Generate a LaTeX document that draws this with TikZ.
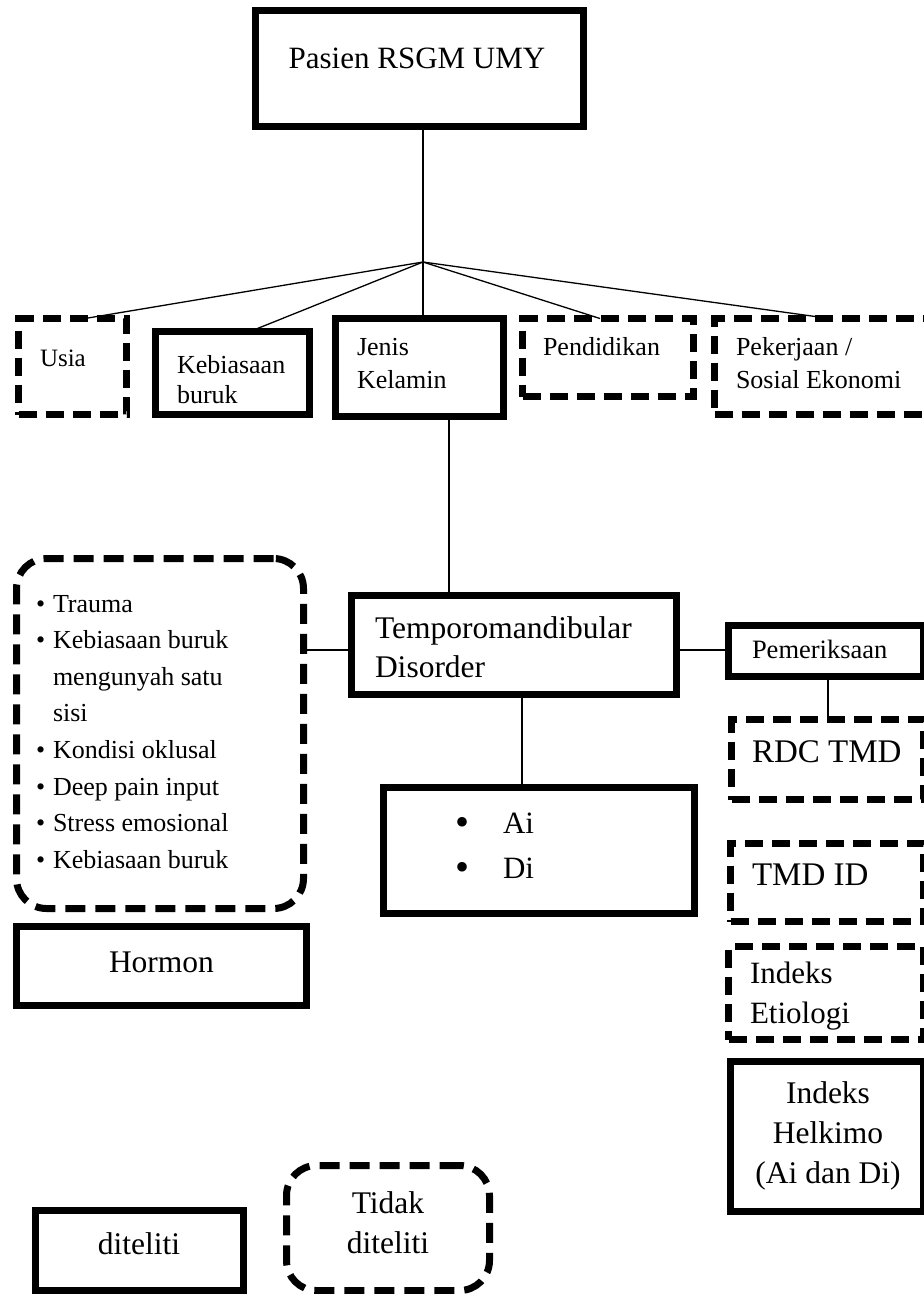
\documentclass[tikz,border=0pt]{standalone}
\usepackage{fontspec}
\setmainfont{Liberation Serif}
\newcommand\fs[1]{\fontsize{#1}{#1}\selectfont}
\newcommand\bx[6]{\node[#1, minimum width={#4-#3-7}, minimum height={#6-#5-7}] (#2) at ({(#3+#4)/2},{(#5+#6)/2}) {};}
\tikzset{
  every node/.style={inner sep=0pt, outer sep=0pt},
  sbox/.style={draw, rectangle, line width=7pt},
  dbox/.style={draw, rectangle, line width=7pt, dash pattern=on 18pt off 9pt},
  rdbox/.style={draw, rectangle, line width=7pt, dash pattern=on 20pt off 10pt, rounded corners=30pt},
  conn/.style={line width=1.3pt},
  tl/.style={anchor=base west},
  tc/.style={anchor=base},
}
\begin{document}
\begin{tikzpicture}[x=1pt,y=-1pt]
\fill[white] (0,0) rectangle (924,1294);
\useasboundingbox (0,0) rectangle (924,1294);
\clip (0,0) rectangle (924,1294);

% boxes
\bx{sbox}{pasien}{252}{587}{7}{130}
\bx{dbox}{usia}{15}{130}{315}{418}
\bx{sbox}{kebiasaan}{152}{313}{328}{418}
\bx{sbox}{jenis}{332}{507}{315}{420}
\bx{dbox}{pendidikan}{519}{697}{315}{400}
\bx{dbox}{pekerjaan}{711}{945}{315}{418}
\bx{sbox}{tmd}{348}{680}{592}{698}
\bx{rdbox}{faktor}{13}{307}{555}{912}
\bx{sbox}{hormon}{13}{310}{923}{1009}
\bx{sbox}{aidi}{380}{698}{784}{917}
\bx{sbox}{periksa}{725}{927}{622}{680}
\bx{dbox}{rdc}{728}{927}{716}{803}
\bx{dbox}{tmdid}{727}{927}{840}{925}
\bx{dbox}{etiologi}{725}{927}{943}{1043}
\bx{sbox}{helkimo}{727}{927}{1058}{1215}
\bx{sbox}{diteliti}{32}{247}{1207}{1294}
\bx{rdbox}{tidak}{283}{493}{1162}{1294}

% connectors
\coordinate (J) at (423,262);
\draw[conn] (J |- pasien.south) -- (J);
\draw[conn] (J) -- ([xshift=12.5pt]usia.north);
\draw[conn] (J) -- ([xshift=17.5pt]kebiasaan.north);
\draw[conn] (J) -- (J |- jenis.north);
\draw[conn] (J) -- ([xshift=-8pt]pendidikan.north);
\draw[conn] (J) -- ([xshift=1.5pt]pekerjaan.north);
\draw[conn] ([xshift=29.5pt]jenis.south) -- ([xshift=29.5pt]jenis.south |- tmd.north);
\draw[conn] ([yshift=-5pt]tmd.west) -- ([yshift=-5pt]tmd.west -| faktor.east);
\draw[conn] ([yshift=-5pt]tmd.east) -- ([yshift=-5pt]tmd.east -| periksa.west);
\draw[conn] ([xshift=8pt]tmd.south) -- ([xshift=8pt]tmd.south |- aidi.north);
\draw[conn] ([xshift=2pt]periksa.south) -- ([xshift=2pt]periksa.south |- rdc.north);

% texts
\node[tc,font=\fs{31}] (tPasien) at (417,68) {Pasien RSGM UMY};
\node[tl,font=\fs{25}] (tUsia) at (40,366) {Usia};
\node[tl,font=\fs{26}] (tKeb1) at (177,373) {Kebiasaan};
\node[tl,font=\fs{26}] (tKeb2) at (177,403) {buruk};
\node[tl,font=\fs{26}] (tJen1) at (357,355) {Jenis};
\node[tl,font=\fs{26}] (tJen2) at (357,388) {Kelamin};
\node[tl,font=\fs{26}] (tPend) at (543,355) {Pendidikan};
\node[tl,font=\fs{26}] (tPek1) at (736,355) {Pekerjaan /};
\node[tl,font=\fs{26}] (tPek2) at (736,388) {Sosial Ekonomi};
\node[tl,font=\fs{31.5}] (tTmd1) at (375,638) {Temporomandibular};
\node[tl,font=\fs{31.5}] (tTmd2) at (375,677) {Disorder};

\node[tl,font=\fs{26}] (b1) at (36,612) {•};
\node[tl,font=\fs{26}] (f1) at (53,612) {Trauma};
\node[tl,font=\fs{26}] (b2) at (36,648.6) {•};
\node[tl,font=\fs{26}] (f2) at (53,648.6) {Kebiasaan buruk};
\node[tl,font=\fs{26}] (f2b) at (53,685.2) {mengunyah satu};
\node[tl,font=\fs{26}] (f2c) at (53,721.8) {sisi};
\node[tl,font=\fs{26}] (b3) at (36,758.4) {•};
\node[tl,font=\fs{26}] (f3) at (53,758.4) {Kondisi oklusal};
\node[tl,font=\fs{26}] (b4) at (36,795) {•};
\node[tl,font=\fs{26}] (f4) at (53,795) {Deep pain input};
\node[tl,font=\fs{26}] (b5) at (36,831.6) {•};
\node[tl,font=\fs{26}] (f5) at (53,831.6) {Stress emosional};
\node[tl,font=\fs{26}] (b6) at (36,868.2) {•};
\node[tl,font=\fs{26}] (f6) at (53,868.2) {Kebiasaan buruk};

\node[tc,font=\fs{31.5}] (tHormon) at (161.5,972) {Hormon};

\node[tl,font=\fs{40}] (bAi) at (455,835) {•};
\node[tl,font=\fs{31}] (tAi) at (503,833) {Ai};
\node[tl,font=\fs{40}] (bDi) at (455,880) {•};
\node[tl,font=\fs{31}] (tDi) at (503,878) {Di};

\node[tl,font=\fs{26.5}] (tPeriksa) at (752,658) {Pemeriksaan};
\node[tl,font=\fs{33}] (tRdc) at (752,762) {RDC TMD};
\node[tl,font=\fs{33}] (tTmdid) at (752,885) {TMD ID};
\node[tl,font=\fs{31}] (tEt1) at (750,983) {Indeks};
\node[tl,font=\fs{31}] (tEt2) at (750,1023) {Etiologi};
\node[tc,font=\fs{31.5}] (tHel1) at (828,1103) {Indeks};
\node[tc,font=\fs{31.5}] (tHel2) at (828,1143) {Helkimo};
\node[tc,font=\fs{31.5}] (tHel3) at (828,1183) {(Ai dan Di)};

\node[tc,font=\fs{31.5}] (tDit) at (139,1254) {diteliti};
\node[tc,font=\fs{31.5}] (tTid1) at (388,1213) {Tidak};
\node[tc,font=\fs{31.5}] (tTid2) at (388,1253) {diteliti};
\end{tikzpicture}
\end{document}
